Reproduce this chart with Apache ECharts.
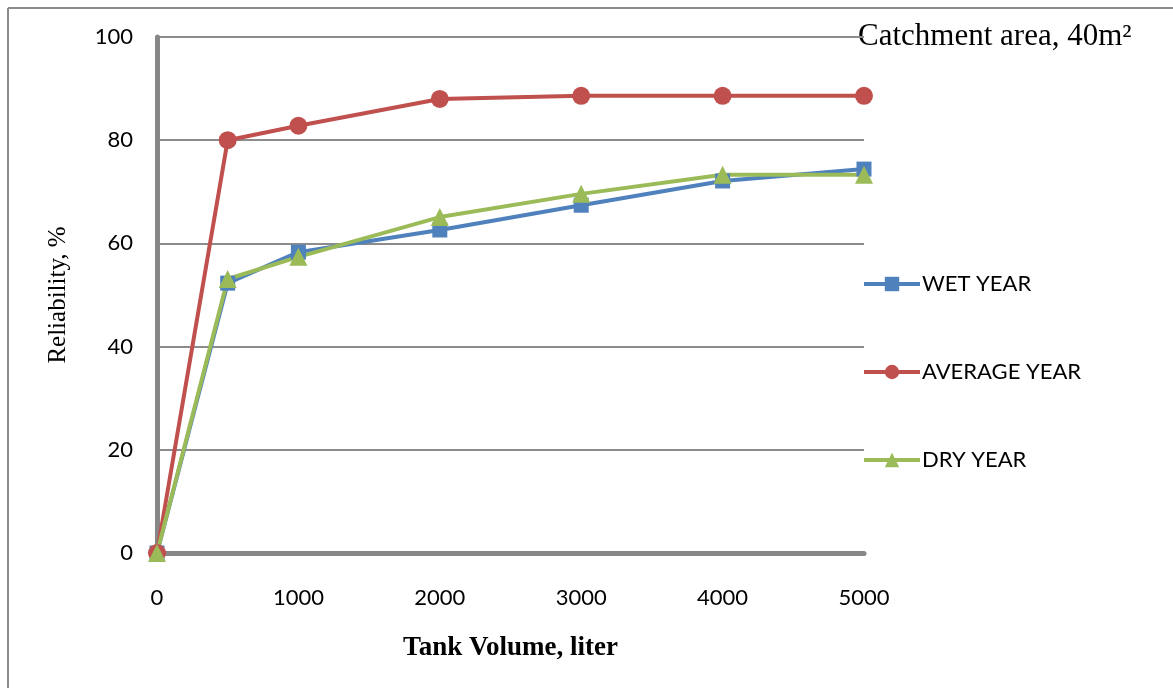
<!DOCTYPE html>
<html>
<head>
<meta charset="utf-8">
<script src="https://cdn.jsdelivr.net/npm/echarts@6/dist/echarts.min.js"></script>
<style>
  html, body { margin: 0; padding: 0; background: #fff; }
  #chart { width: 1173px; height: 688px; }
</style>
</head>
<body>
<div id="chart"></div>
<script>
// Tank volumes (liter) and reliability (%) for each rainfall year type
const tankVolumes = [0, 500, 1000, 2000, 3000, 4000, 5000];
const wetYear = [0, 52.3, 58.3, 62.6, 67.4, 72.1, 74.4];
const averageYear = [0, 80.0, 82.8, 88.0, 88.6, 88.6, 88.6];
const dryYear = [0, 53.1, 57.4, 65.1, 69.6, 73.3, 73.3];
const seriesNames = ['WET YEAR', 'AVERAGE YEAR', 'DRY YEAR'];
const yTicks = { min: 0, max: 100, interval: 20 };
const xTicks = { min: 0, max: 5000, interval: 1000 };

const pairs = vals => tankVolumes.map((v, i) => [v, vals[i]]);

const sansFont = 'Lato, "Open Sans", sans-serif';
const serifFont = '"Liberation Serif", "DejaVu Serif", serif';

const chart = echarts.init(document.getElementById('chart'));
chart.setOption({
  animation: false,
  backgroundColor: '#fff',
  grid: { left: 157, top: 37, right: 309, bottom: 135, containLabel: false },
  xAxis: {
    type: 'value',
    min: xTicks.min, max: xTicks.max, interval: xTicks.interval,
    name: 'Tank Volume, liter',
    nameLocation: 'middle',
    nameGap: 82,
    nameTextStyle: { fontFamily: serifFont, fontWeight: 'bold', fontSize: 27, color: '#000' },
    axisLine: { show: true, lineStyle: { color: '#878787', width: 5 } },
    axisTick: { show: false },
    axisLabel: { margin: 34, fontFamily: sansFont, fontSize: 22, color: '#000', formatter: v => String(v) },
    splitLine: { show: false }
  },
  yAxis: {
    type: 'value',
    min: yTicks.min, max: yTicks.max, interval: yTicks.interval,
    name: 'Reliability, %',
    nameLocation: 'middle',
    nameGap: 86,
    nameTextStyle: { fontFamily: serifFont, fontSize: 25, color: '#000' },
    axisLine: { show: true, lineStyle: { color: '#878787', width: 5 } },
    axisTick: { show: false },
    axisLabel: { margin: 24, fontFamily: sansFont, fontSize: 22, color: '#000' },
    splitLine: { show: true, lineStyle: { color: '#8c8c8c', width: 2 } }
  },
  legend: {
    orient: 'vertical',
    left: 857,
    top: 268,
    itemWidth: 56,
    itemHeight: 18,
    itemGap: 66,
    lineStyle: { width: 4 },
    textStyle: { fontFamily: sansFont, fontSize: 22, color: '#000', padding: [0, 0, 0, -3] },
    data: seriesNames
  },
  series: [
    {
      name: seriesNames[0], type: 'line', data: pairs(wetYear),
      symbol: 'rect', symbolSize: 15,
      itemStyle: { color: '#4F81BD' },
      lineStyle: { color: '#4F81BD', width: 4 }
    },
    {
      name: seriesNames[1], type: 'line', data: pairs(averageYear),
      symbol: 'circle', symbolSize: 18,
      itemStyle: { color: '#C0504D' },
      lineStyle: { color: '#C0504D', width: 4 }
    },
    {
      name: seriesNames[2], type: 'line', data: pairs(dryYear),
      symbol: 'triangle', symbolSize: 18,
      itemStyle: { color: '#9BBB59' },
      lineStyle: { color: '#9BBB59', width: 4 }
    }
  ],
  graphic: [
    { type: 'line', shape: { x1: 8, y1: 8, x2: 1173, y2: 8 }, style: { stroke: '#8a8a8a', lineWidth: 2 } },
    { type: 'line', shape: { x1: 8, y1: 8, x2: 8, y2: 688 }, style: { stroke: '#8a8a8a', lineWidth: 2 } },
    {
      type: 'text', left: 858, top: 21,
      style: { text: 'Catchment area, 40m²', font: '31px "Liberation Serif", serif', fill: '#000' }
    }
  ]
});
</script>
</body>
</html>
